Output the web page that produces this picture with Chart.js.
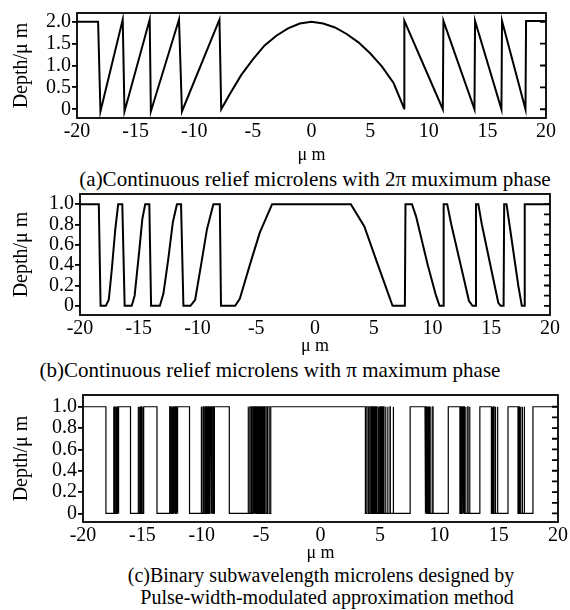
<!DOCTYPE html>
<html>
<head>
<meta charset="utf-8">
<script src="https://cdn.jsdelivr.net/npm/chart.js@4.4.1/dist/chart.umd.min.js"></script>
<style>
  body { margin: 0; background: #fff; }
  #page { position: relative; width: 570px; height: 610px; overflow: hidden; font-family: 'Liberation Serif', 'DejaVu Serif', serif; color: #000; }
  canvas { position: absolute; left: 0; }
  .cap { position: absolute; width: 570px; text-align: center; font-size: 21px; line-height: 20px; white-space: nowrap; }
  .cap.small { font-size: 20px; }
</style>
</head>
<body>
<div id="page">
  <canvas id="chartA" width="570" height="166" style="top:0px"></canvas>
  <div class="cap" style="left:30px; top:169px">(a)Continuous relief microlens with 2π muximum phase</div>
  <canvas id="chartB" width="570" height="177" style="top:180px"></canvas>
  <div class="cap" style="left:-15px; top:360px">(b)Continuous relief microlens with π maximum phase</div>
  <canvas id="chartC" width="570" height="184" style="top:380px"></canvas>
  <div class="cap small" style="left:36px; top:565px">(c)Binary subwavelength microlens designed by</div>
  <div class="cap small" style="left:42px; top:587px">Pulse-width-modulated approximation method</div>
</div>
<script>
'use strict';
// data

// x ticks (μm)
const xTicks = [-20, -15, -10, -5, 0, 5, 10, 15, 20];

// (a) 2π continuous relief
const yTicksA = [0, 0.5, 1.0, 1.5, 2.0];
const profileAx = [-20, -18.2, -18.0, -16.1, -15.95, -13.8, -13.7, -11.3, -11.05, -7.85,
  -7.7, -7, -6, -5, -4, -3, -2, -1, 0, 1,
  2, 3, 4, 5, 6, 7, 7.9, 7.92, 11.2, 11.25,
  13.9, 13.95, 16.2, 16.25, 18.25, 18.3, 20];
const profileAy = [2.0, 2.0, -0.05, 2.05, -0.05, 2.05, -0.05, 2.05, -0.05, 2.05,
  0, 0.33, 0.78, 1.14, 1.46, 1.68, 1.85, 1.96, 2.0, 1.96,
  1.87, 1.72, 1.53, 1.28, 0.98, 0.6, 0.02, 2.02, 0.0, 2.02,
  0.0, 2.02, 0.0, 2.02, 0.0, 2.02, 2.02];

// (b) π continuous relief
const yTicksB = [0, 0.2, 0.4, 0.6, 0.8, 1.0];
const profileBx = [-20, -18.4, -18.25, -17.8, -17.55, -17.3, -17.0, -16.75, -16.4, -16.2,
  -15.6, -15.35, -14.95, -14.7, -14.45, -14.1, -13.95,
  -13.2, -12.9, -12.5, -12.1, -11.75, -11.4, -11.2,
  -10.6, -10.2, -9.7, -9.2, -8.65, -8.1, -8.0,
  -6.8, -6.4, -5.5, -4.7, -3.65, 3.05, 4.2, 5.3, 6.2, 6.6,
  7.65, 7.7, 8.25, 8.6, 9.6, 10.3, 10.6, 10.9, 10.95, 11.25,
  11.6, 12.6, 13.1, 13.4, 13.65, 13.7, 13.9, 14.2, 15.2, 15.6,
  15.8, 16.05, 16.1, 16.3, 16.55, 17.3, 17.6, 17.8, 17.85, 20];
const profileBy = [1, 1, 0, 0, 0.06, 0.35, 0.75, 1, 1, 0,
  0, 0.1, 0.55, 0.85, 1, 1, 0,
  0, 0.12, 0.45, 0.82, 1, 1, 0,
  0, 0.06, 0.4, 0.75, 1, 1, 0,
  0, 0.07, 0.42, 0.72, 1, 1, 0.78, 0.42, 0.13, 0,
  0, 1, 1, 0.88, 0.4, 0.1, 0, 0, 1, 1,
  0.8, 0.3, 0.05, 0, 0, 1, 1, 0.8, 0.25, 0.03,
  0, 0, 1, 1, 0.8, 0.2, 0, 0, 1, 1];

// (c) binary subwavelength: start level and x positions where depth flips 1 <-> 0
const yTicksC = [0, 0.2, 0.4, 0.6, 0.8, 1.0];
const binaryStartC = 1;
const binaryEdgesC = [
  -18.07,
  -17.42, -17.40, -17.33, -17.30, -17.22, -17.18, -17.10, -17.05, -16.98,
  -16.0,
  -15.36, -15.33, -15.26, -15.21, -15.14, -15.08, -15.0, -14.95, -14.89,
  -13.77,
  -12.70, -12.67, -12.6, -12.56, -12.49, -12.44, -12.38, -12.32, -12.26, -12.2, -12.13, -12.08, -12.01,
  -11.03,
  -10.05, -10.02, -9.9, -9.86, -9.75, -9.7, -9.6, -9.54, -9.45, -9.38, -9.3, -9.22, -9.14, -9.06, -8.99, -8.95, -8.93,
  -7.68,
  -6.1, -6.07, -5.95, -5.92, -5.8, -5.76, -5.65, -5.6, -5.52, -5.46, -5.38, -5.31, -5.24, -5.16, -5.08, -5.0,
  -4.9, -4.8, -4.7, -4.58, -4.46, -4.32, -4.19,
  3.78, 3.9, 4.03, 4.15, 4.26, 4.36, 4.45, 4.54, 4.62, 4.7, 4.77, 4.85, 4.92, 5.0, 5.06, 5.14, 5.2, 5.3,
  5.35, 5.47, 5.51, 5.65, 5.68, 5.85, 5.88, 6.12, 6.15,
  7.55,
  8.8, 8.86, 8.93, 9.0, 9.05, 9.13, 9.17, 9.27, 9.3, 9.45, 9.48,
  10.76,
  11.74, 11.8, 11.87, 11.94, 12.0, 12.08, 12.12, 12.22, 12.25, 12.4, 12.43, 12.55, 12.58,
  13.42,
  14.39, 14.45, 14.51, 14.58, 14.62, 14.72, 14.75, 14.9, 14.93,
  15.79,
  16.63, 16.69, 16.75, 16.83, 16.87, 16.98, 17.01, 17.15, 17.18,
  17.89,
];

// settings
Chart.defaults.color = '#000';
Chart.defaults.font.family = "'Liberation Serif', 'DejaVu Serif', serif";

const AXIS_FONT = { size: 20 };
const TITLE_FONT = { size: 20 };

// box frame + inward ticks on the right edge
const framePlugin = {
  id: 'frame',
  afterDraw(chart, args, opts) {
    const { ctx, chartArea: a, scales } = chart;
    ctx.save();
    ctx.strokeStyle = '#000';
    ctx.lineWidth = 1.8;
    ctx.strokeRect(a.left, a.top, a.right - a.left, a.bottom - a.top);
    ctx.beginPath();
    (opts.rightTicks || []).forEach((v) => {
      const y = scales.y.getPixelForValue(v);
      ctx.moveTo(a.right, y);
      ctx.lineTo(a.right - 6, y);
    });
    ctx.stroke();
    ctx.restore();
  },
};

drawPanel('chartA', {
  points: zipPoints(profileAx, profileAy),
  yMin: -0.2, yMax: 2.2,
  yTicks: yTicksA,
  rightTicks: yTicksA,
  pad: { left: 0, right: 24, top: 13 },
  yWidth: 77,
  xHeight: 48,
  lineWidth: 2,
});

drawPanel('chartB', {
  points: zipPoints(profileBx, profileBy),
  yMin: -0.09, yMax: 1.1,
  yTicks: yTicksB,
  rightTicks: [0, 0.1, 0.2, 0.3, 0.4, 0.5, 0.6, 0.7, 0.8, 0.9, 1.0],
  pad: { left: 0, right: 20, top: 14 },
  yWidth: 80,
  xHeight: 42,
  lineWidth: 2,
});

drawPanel('chartC', {
  points: stepPoints(binaryStartC, binaryEdgesC),
  yMin: -0.08, yMax: 1.11,
  yTicks: yTicksC,
  rightTicks: [0, 0.1, 0.2, 0.3, 0.4, 0.5, 0.6, 0.7, 0.8, 0.9, 1.0],
  pad: { left: 0, right: 12, top: 15 },
  yWidth: 83,
  xHeight: 42,
  lineWidth: 1.2,
});

// utilities

function zipPoints(xs, ys) {
  return xs.map((x, i) => ({ x: x, y: ys[i] }));
}

// binary profile: flip level at each edge
function stepPoints(startLevel, edges) {
  const pts = [{ x: xTicks[0], y: startLevel }];
  let level = startLevel;
  edges.forEach((x) => {
    pts.push({ x: x, y: level });
    level = 1 - level;
    pts.push({ x: x, y: level });
  });
  pts.push({ x: xTicks[xTicks.length - 1], y: level });
  return pts;
}

function drawPanel(id, p) {
  const ctx = document.getElementById(id);
  new Chart(ctx, {
    type: 'line',
    data: {
      datasets: [
        {
          data: p.points,
          borderColor: '#000',
          borderWidth: p.lineWidth,
          pointRadius: 0,
          tension: 0,
          fill: false,
        },
      ],
    },
    options: {
      responsive: false,
      animation: false,
      layout: { padding: { left: p.pad.left, right: p.pad.right, top: p.pad.top, bottom: 0 } },
      plugins: {
        legend: { display: false },
        tooltip: { enabled: false },
        frame: { rightTicks: p.rightTicks },
      },
      scales: {
        x: {
          type: 'linear',
          min: xTicks[0],
          max: xTicks[xTicks.length - 1],
          afterBuildTicks: (s) => { s.ticks = xTicks.map((v) => ({ value: v })); },
          afterFit: (s) => { s.height = p.xHeight; },
          ticks: { font: AXIS_FONT, padding: 2, maxRotation: 0, autoSkip: false, callback: (v) => String(v) },
          grid: { display: false, drawTicks: false },
          border: { display: false },
          title: { display: true, text: 'μ m', font: { size: 18 }, padding: { top: 0, bottom: 0 } },
        },
        y: {
          min: p.yMin,
          max: p.yMax,
          afterBuildTicks: (s) => { s.ticks = p.yTicks.map((v) => ({ value: v })); },
          afterFit: (s) => { s.width = p.yWidth; },
          ticks: { font: AXIS_FONT, padding: 1, autoSkip: false, callback: (v) => (v === 0 ? '0' : v.toFixed(1)) },
          grid: { drawOnChartArea: false, drawTicks: true, tickLength: 5, color: '#000', lineWidth: 1.8 },
          border: { display: false },
          title: { display: true, text: 'Depth/μ m', font: TITLE_FONT, padding: { top: 10, bottom: 0 } },
        },
      },
    },
    plugins: [framePlugin],
  });
}
</script>
</body>
</html>
